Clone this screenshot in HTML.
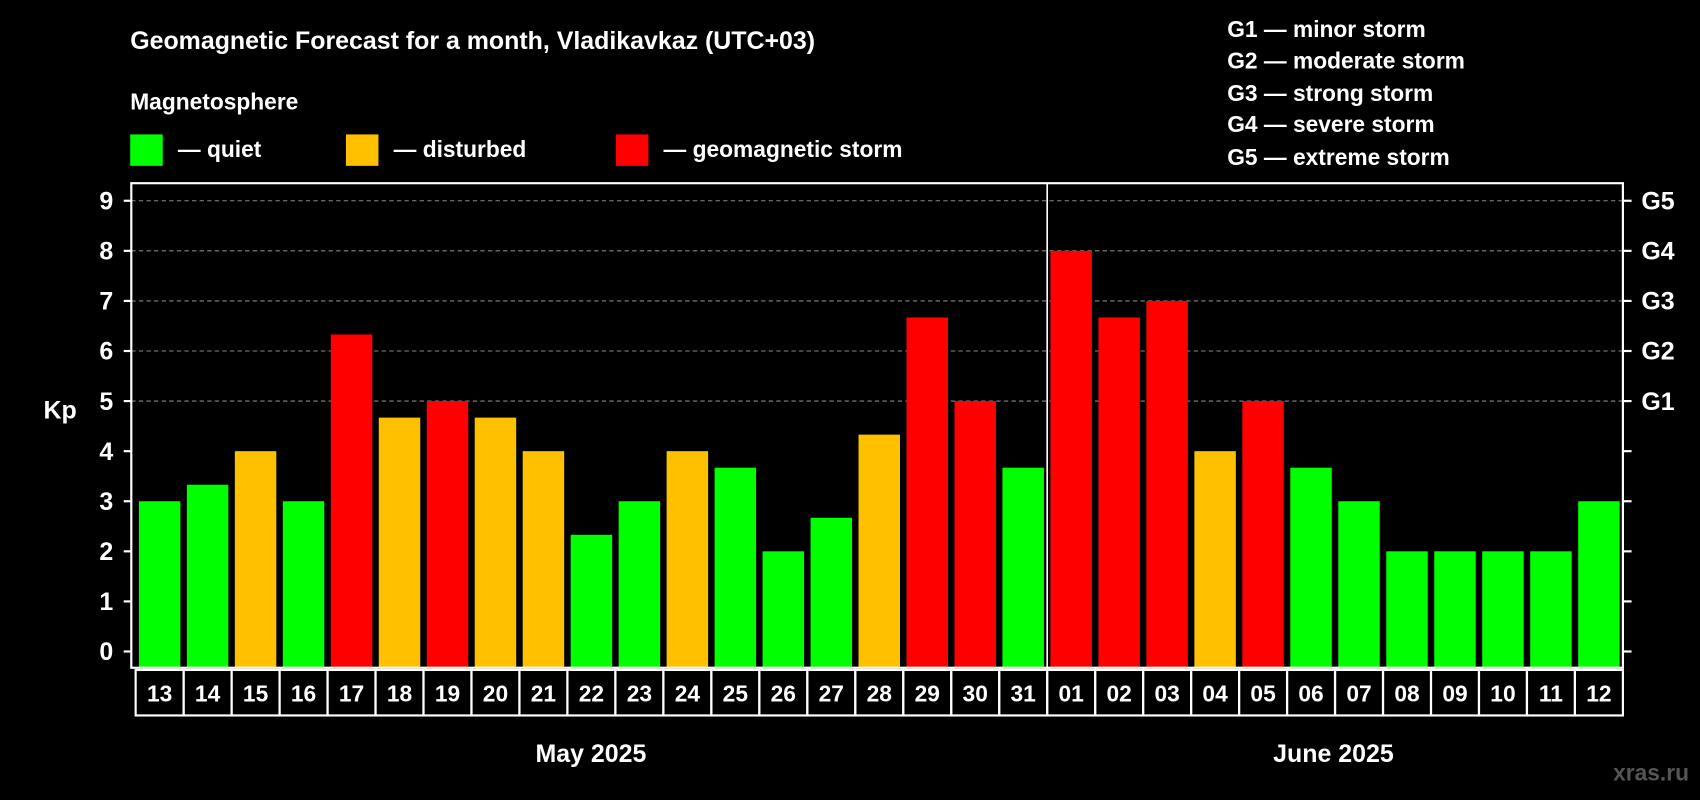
<!DOCTYPE html>
<html><head><meta charset="utf-8"><style>
html,body{margin:0;padding:0;background:#000;}
svg{display:block;font-family:"Liberation Sans",sans-serif;font-weight:bold;}
</style></head><body>
<svg id="chart" width="1700" height="800" viewBox="0 0 1568 738" xmlns="http://www.w3.org/2000/svg">
<rect x="0" y="0" width="1568" height="738" fill="#000"/>
<text x="120" y="45" fill="#fff" font-size="23">Geomagnetic Forecast for a month, Vladikavkaz (UTC+03)</text>
<text x="120" y="101" fill="#fff" font-size="21">Magnetosphere</text>
<g><rect x="120" y="124" width="30" height="29" fill="#00ff00"/><text x="164" y="145" fill="#fff" font-size="21">— quiet</text></g>
<g><rect x="319" y="124" width="30" height="29" fill="#ffc000"/><text x="363" y="145" fill="#fff" font-size="21">— disturbed</text></g>
<g><rect x="568" y="124" width="30" height="29" fill="#ff0000"/><text x="612" y="145" fill="#fff" font-size="21">— geomagnetic storm</text></g>
<g fill="#fff" font-size="21">
<text x="1132" y="34">G1 — minor storm</text>
<text x="1132" y="63">G2 — moderate storm</text>
<text x="1132" y="93">G3 — strong storm</text>
<text x="1132" y="122">G4 — severe storm</text>
<text x="1132" y="152">G5 — extreme storm</text>
</g>
<text x="40" y="386" fill="#fff" font-size="23">Kp</text>
<g id="grid"></g><g id="bars"></g><g id="axes"></g><g id="labels"></g>
<text x="545" y="703" fill="#fff" font-size="23" text-anchor="middle">May 2025</text>
<text x="1230" y="703" fill="#fff" font-size="23" text-anchor="middle">June 2025</text>
<text x="1558" y="720" fill="#555" font-size="21" text-anchor="end">xras.ru</text>
</svg>
<script>
const days = ["13","14","15","16","17","18","19","20","21","22","23","24","25","26","27","28","29","30","31","01","02","03","04","05","06","07","08","09","10","11","12"];
const kpValues = [3,3.33,4,3,6.33,4.67,5,4.67,4,2.33,3,4,3.67,2,2.67,4.33,6.67,5,3.67,8,6.67,7,4,5,3.67,3,2,2,2,2,3];
const yTicks = [0,1,2,3,4,5,6,7,8,9];
const gLabels = ["G1","G2","G3","G4","G5"];
const gLevels = [5,6,7,8,9];
const NS="http://www.w3.org/2000/svg";
const X0=125, X1=1497, TOP=169, BOT=616;
const colW=(X1-X0)/days.length;
function y(v){return 601 - v*46.2;}
function xCol(i){return X0+i*colW;}
function mk(tag,attrs,parent){const e=document.createElementNS(NS,tag);for(const k in attrs)e.setAttribute(k,attrs[k]);parent.appendChild(e);return e;}
function color(v){return v>=5?"#ff0000":(v>=4?"#ffc000":"#00ff00");}
const grid=document.getElementById('grid'),bars=document.getElementById('bars'),axes=document.getElementById('axes'),labels=document.getElementById('labels');
gLevels.forEach((g,i)=>{
  const l=mk('line',{x1:121,x2:1497,y1:y(g),y2:y(g),stroke:"#888","stroke-dasharray":"4,3","stroke-width":1},grid);
  
  
  const t=mk('text',{x:1514,y:y(g)+8,fill:"#fff","font-size":23},axes);
  t.textContent=gLabels[i];
  
  
});
kpValues.forEach((v,i)=>{
  const r=mk('rect',{x:xCol(i)+3,y:y(v),width:colW-6,height:BOT-y(v),fill:color(v)},bars);
  
  
});
const frame=mk('rect',{x:121,y:TOP,width:X1-121,height:BOT-TOP,fill:"none",stroke:"#fff","stroke-width":2},axes);


const div=mk('line',{x1:xCol(19),x2:xCol(19),y1:TOP,y2:BOT,stroke:"#fff","stroke-width":1.5},axes);


yTicks.forEach(v=>{
  mk('line',{x1:114,x2:121,y1:y(v),y2:y(v),stroke:"#fff","stroke-width":2},axes);
  mk('line',{x1:1497,x2:1505,y1:y(v),y2:y(v),stroke:"#fff","stroke-width":2},axes);
  const t=mk('text',{x:98,y:y(v)+8,fill:"#fff","font-size":23,"text-anchor":"middle"},axes);
  t.textContent=v;
  
  
});
days.forEach((d,i)=>{
  const r=mk('rect',{x:xCol(i),y:618,width:colW,height:42,fill:"none",stroke:"#fff","stroke-width":2},labels);
  
  
  const t=mk('text',{x:xCol(i)+colW/2,y:647,fill:"#fff","font-size":21,"text-anchor":"middle"},labels);
  t.textContent=d;
  
  
});
</script>
</body></html>
